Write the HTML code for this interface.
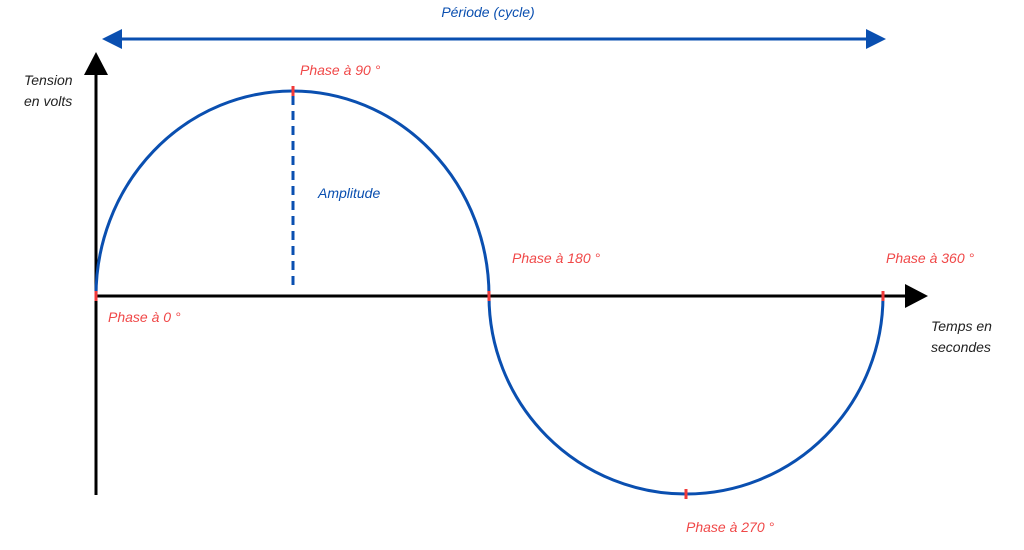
<!DOCTYPE html>
<html><head><meta charset="utf-8"><style>
body{margin:0;background:#fff;width:1024px;height:545px;overflow:hidden}
text{font-family:"Liberation Sans",sans-serif;font-style:italic;font-size:14px}
</style></head><body>
<svg width="1024" height="545" viewBox="0 0 1024 545">
<!-- period arrow -->
<line x1="118" y1="39" x2="870" y2="39" stroke="#0a4fb0" stroke-width="3"/>
<polygon points="102,39 122,29 122,49" fill="#0a4fb0"/>
<polygon points="886,39 866,29 866,49" fill="#0a4fb0"/>
<text x="488" y="17" fill="#0a4fb0" text-anchor="middle">Période (cycle)</text>
<!-- axes -->
<line x1="96" y1="495" x2="96" y2="70" stroke="#000" stroke-width="3"/>
<polygon points="96,52 84,75 108,75" fill="#000"/>
<line x1="96" y1="296" x2="908" y2="296" stroke="#000" stroke-width="3"/>
<polygon points="928,296 905,284 905,308" fill="#000"/>
<!-- waves -->
<path d="M96,296 A196.5,205 0 0 1 489,296" fill="none" stroke="#0a4fb0" stroke-width="3"/>
<path d="M489,296 A197,198 0 0 0 883,296" fill="none" stroke="#0a4fb0" stroke-width="3"/>
<line x1="293" y1="96" x2="293" y2="290" stroke="#0a4fb0" stroke-width="3" stroke-dasharray="9,6"/>
<!-- ticks -->
<g stroke="#f03a3a" stroke-width="3">
<line x1="96" y1="291" x2="96" y2="301"/>
<line x1="293" y1="86" x2="293" y2="96"/>
<line x1="489" y1="291" x2="489" y2="301"/>
<line x1="883" y1="291" x2="883" y2="301"/>
<line x1="686" y1="489" x2="686" y2="499"/>
</g>
<!-- labels -->
<g fill="#f04848">
<text x="300" y="75">Phase à 90 °</text>
<text x="108" y="322">Phase à 0 °</text>
<text x="512" y="263">Phase à 180 °</text>
<text x="886" y="263">Phase à 360 °</text>
<text x="686" y="532">Phase à 270 °</text>
</g>
<text x="318" y="198" fill="#0a4fb0">Amplitude</text>
<text x="24" y="85" fill="#222">Tension</text>
<text x="24" y="106" fill="#222">en volts</text>
<text x="931" y="331" fill="#222">Temps en</text>
<text x="931" y="352" fill="#222">secondes</text>
</svg>
</body></html>
